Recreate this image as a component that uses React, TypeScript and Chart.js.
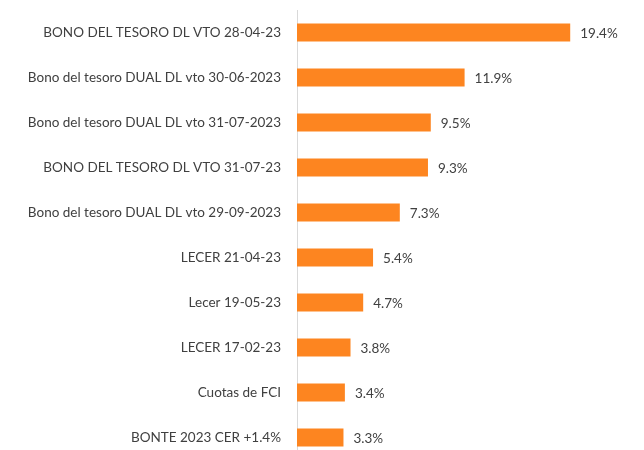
import React, { useEffect, useRef } from "react";
import { Chart, registerables } from "chart.js";

Chart.register(...registerables);

const categories = [
  "BONO DEL TESORO DL VTO 28-04-23",
  "Bono del tesoro DUAL DL vto 30-06-2023",
  "Bono del tesoro DUAL DL vto 31-07-2023",
  "BONO DEL TESORO DL VTO 31-07-23",
  "Bono del tesoro DUAL DL vto 29-09-2023",
  "LECER 21-04-23",
  "Lecer 19-05-23",
  "LECER 17-02-23",
  "Cuotas de FCI",
  "BONTE 2023 CER +1.4%",
];
const values = [19.4, 11.9, 9.5, 9.3, 7.3, 5.4, 4.7, 3.8, 3.4, 3.3];

const FONT = "Lato, 'Open Sans', sans-serif";
const TEXT = "#404040";

const labelPlugin = {
  id: "valueLabels",
  afterDatasetsDraw(chart: any) {
    const ctx = chart.ctx;
    const meta = chart.getDatasetMeta(0);
    ctx.save();
    ctx.font = `13.5px ${FONT}`;
    ctx.fillStyle = TEXT;
    ctx.textAlign = "left";
    ctx.textBaseline = "middle";
    meta.data.forEach((bar: any, i: number) => {
      ctx.fillText(values[i].toFixed(1) + "%", bar.x + 10, bar.y + 1);
    });
    ctx.restore();
  },
};

export default function App() {
  const ref = useRef<HTMLCanvasElement>(null);
  useEffect(() => {
    const chart = new Chart(ref.current!, {
      type: "bar",
      data: {
        labels: categories,
        datasets: [
          {
            data: values,
            backgroundColor: "#FD8520",
            barPercentage: 0.4,
            categoryPercentage: 1,
          },
        ],
      },
      options: {
        indexAxis: "y",
        animation: false,
        responsive: false,
        maintainAspectRatio: false,
        layout: { padding: { top: 10, right: 9, bottom: 0, left: 0 } },
        plugins: { legend: { display: false }, tooltip: { enabled: false } },
        scales: {
          x: { display: false, min: 0, max: 24 },
          y: {
            grid: { display: false, drawTicks: false },
            border: { display: true, color: "#d9d9d9", width: 1 },
            ticks: { color: TEXT, font: { family: FONT, size: 13.5 }, padding: 16 },
            afterFit: (scale: any) => {
              scale.width = 297;
              scale.paddingTop = 0;
              scale.paddingBottom = 0;
            },
          },
        },
      },
      plugins: [labelPlugin],
    });
    return () => chart.destroy();
  }, []);
  return (
    <div style={{ position: "fixed", top: 0, left: 0, width: 644, height: 460, background: "#fff" }}>
      <canvas ref={ref} width={644} height={460} />
    </div>
  );
}
